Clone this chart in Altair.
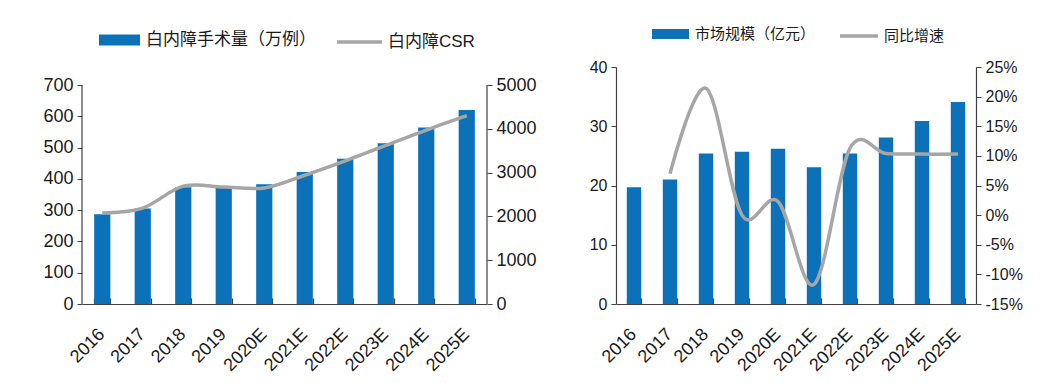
import altair as alt
import pandas as pd

years = ["2016", "2017", "2018", "2019", "2020E", "2021E", "2022E", "2023E", "2024E", "2025E"]
surgeries = [287, 305, 373, 373, 383, 422, 464, 514, 564, 620]
csr = [2080, 2190, 2690, 2670, 2650, 2940, 3270, 3620, 3970, 4300]
market = [19.7, 21.0, 25.4, 25.7, 26.2, 23.1, 25.4, 28.1, 30.9, 34.1]
growth = [None, 0.070, 0.214, 0.000, 0.023, -0.117, 0.113, 0.104, 0.103, 0.103]

left_ticks = [0, 100, 200, 300, 400, 500, 600, 700]
csr_ticks = [0, 1000, 2000, 3000, 4000, 5000]
mkt_ticks = [0, 10, 20, 30, 40]
gr_ticks = [-0.15, -0.10, -0.05, 0, 0.05, 0.10, 0.15, 0.20, 0.25]

left_bar_name = "白内障手术量（万例）"
left_line_name = "白内障CSR"
right_bar_name = "市场规模（亿元）"
right_line_name = "同比增速"

BLUE = "#0b72ba"
GRAY = "#a6a6a6"
AXIS = "#404040"
TXT = "#1a1a1a"
FONT = "Liberation Sans"
CJK = "Liberation Sans, Noto Sans CJK SC"

H = 237          # common plot height of both panels
H_LEFT = 219     # drawn height of the left panel's axes
STRETCH = H / H_LEFT
TICK = 6         # length of the inward category ticks

df1 = pd.DataFrame({"year": years, "surg": surgeries, "csr": csr,
                    "s1": left_bar_name, "s2": left_line_name})
df2 = pd.DataFrame({"year": years, "mkt": market, "gr": growth,
                    "s1": right_bar_name, "s2": right_line_name})
axis_left_df = pd.DataFrame({"lo": [left_ticks[0]], "hi": [left_ticks[-1]]})
axis_right_df = pd.DataFrame({"lo": [csr_ticks[0]], "hi": [csr_ticks[-1]]})

BAR_PATH = "M-1,-0.27H1V0.27H-1Z"


def xenc():
    # short inward ticks between the categories, drawn as a dashed grid
    return alt.X("year:N", sort=years,
                 scale=alt.Scale(paddingInner=0.6, paddingOuter=0.3),
                 axis=alt.Axis(title=None, labelAngle=-45, labelFontSize=18,
                               labelFont=FONT, labelColor=TXT,
                               ticks=False, tickBand="extent",
                               grid=True, gridColor=AXIS, gridWidth=1.2,
                               gridDash=[TICK, H - TICK], gridDashOffset=TICK,
                               labelPadding=21, labelOffset=-7,
                               domainColor=AXIS, domainWidth=1.2))


def yaxis(orient, values, size, fmt=None, min_extent=None, expr=None, domain=True):
    kw = dict(title=None, grid=False, orient=orient, values=values,
              labelFontSize=size, labelFont=FONT, labelColor=TXT,
              tickColor=AXIS, tickSize=5, domain=domain, domainColor=AXIS,
              domainWidth=1.2, labelPadding=4)
    if fmt:
        kw["format"] = fmt
    if expr:
        kw["labelExpr"] = expr
    if min_extent is not None:
        kw["minExtent"] = min_extent
    return alt.Axis(**kw)


def legend_bar(x, y, width, fs):
    return alt.Legend(title=None, orient="none", legendX=x, legendY=y,
                      symbolType=BAR_PATH, symbolSize=width * width,
                      symbolStrokeWidth=0, labelFont=CJK, labelFontSize=fs,
                      labelColor=TXT, labelOffset=6, labelLimit=400, padding=0)


def legend_line(x, y, width, fs):
    return alt.Legend(title=None, orient="none", legendX=x, legendY=y,
                      symbolType="stroke", symbolSize=width * width,
                      symbolStrokeWidth=3.5, labelFont=CJK, labelFontSize=fs,
                      labelColor=TXT, labelOffset=4, labelLimit=400, padding=0)


# ---- left panel ----
sc_l = alt.Scale(domain=[0, left_ticks[-1] * STRETCH], nice=False)
sc_r = alt.Scale(domain=[0, csr_ticks[-1] * STRETCH], nice=False)
ax_l = yaxis("left", left_ticks, 18, min_extent=69, domain=False)
ax_r = yaxis("right", csr_ticks, 18, fmt="d", domain=False)

bars1 = alt.Chart(df1).mark_bar().encode(
    x=xenc(),
    y=alt.Y("surg:Q", scale=sc_l, axis=ax_l),
    fill=alt.Fill("s1:N", scale=alt.Scale(range=[BLUE]),
                  legend=legend_bar(17, -47.5, 41, 17)),
)
rule_l = alt.Chart(axis_left_df).mark_rule(color=AXIS, strokeWidth=1.2).encode(
    x=alt.value(0),
    y=alt.Y("lo:Q", scale=sc_l, axis=ax_l),
    y2="hi:Q",
)
line1 = alt.Chart(df1).mark_line(strokeWidth=3.5, interpolate="cardinal").encode(
    x=xenc(),
    y=alt.Y("csr:Q", scale=sc_r, axis=ax_r),
    stroke=alt.Stroke("s2:N", scale=alt.Scale(range=[GRAY]),
                      legend=legend_line(253, -49.5, 45, 17)),
)
rule_r = alt.Chart(axis_right_df).mark_rule(color=AXIS, strokeWidth=1.2).encode(
    x=alt.value(405),
    y=alt.Y("lo:Q", scale=sc_r, axis=ax_r),
    y2="hi:Q",
)
left = alt.layer(
    alt.layer(bars1, rule_l), alt.layer(line1, rule_r)
).resolve_scale(
    y="independent", fill="independent", stroke="independent"
).properties(width=405, height=H)

# ---- right panel ----
bars2 = alt.Chart(df2).mark_bar().encode(
    x=xenc(),
    y=alt.Y("mkt:Q", scale=alt.Scale(domain=[0, 40]),
            axis=yaxis("left", mkt_ticks, 16, min_extent=60)),
    fill=alt.Fill("s1:N", scale=alt.Scale(range=[BLUE]),
                  legend=legend_bar(36, -51.5, 37, 15)),
)
line2 = alt.Chart(df2).mark_line(strokeWidth=3.5, interpolate="cardinal").encode(
    x=xenc(),
    y=alt.Y("gr:Q", scale=alt.Scale(domain=[-0.15, 0.25]),
            axis=yaxis("right", gr_ticks, 16, fmt=".0%",
                       expr="replace(datum.label, '\u2212', '-')")),
    stroke=alt.Stroke("s2:N", scale=alt.Scale(range=[GRAY]),
                      legend=legend_line(222, -52, 38, 15)),
)
right = alt.layer(bars2, line2).resolve_scale(
    y="independent", fill="independent", stroke="independent"
).properties(width=360, height=H)

chart = alt.concat(left, right, columns=2, spacing=19, align="none").resolve_scale(
    fill="independent", stroke="independent"
).resolve_legend(fill="independent", stroke="independent").configure_view(
    stroke=None
).properties(
    background="white", padding={"top": 7, "left": 5, "right": 5, "bottom": 5}
)

chart.save("out.html", embed_options={"renderer": "svg", "actions": False})
